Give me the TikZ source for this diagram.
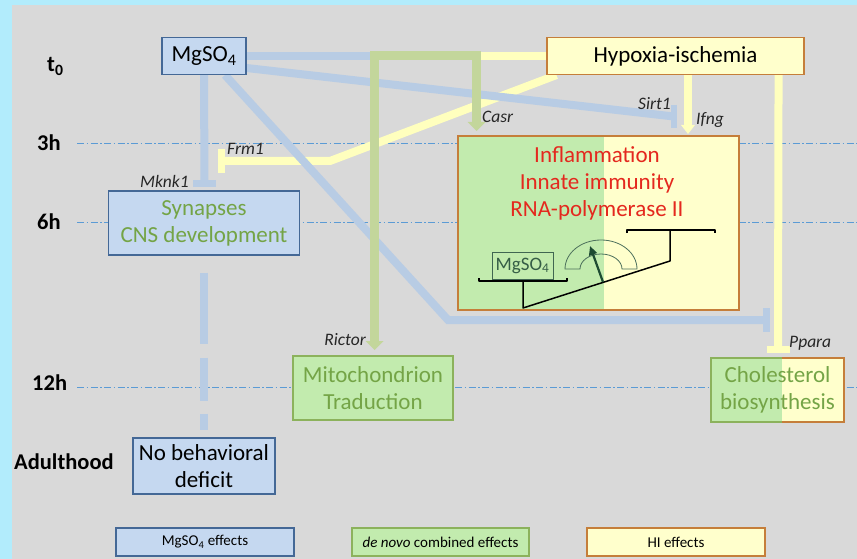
\documentclass[tikz,border=0pt]{standalone}
\usepackage{fontspec}
\setmainfont{Carlito}
\usetikzlibrary{arrows.meta}
\definecolor{bgcyan}{RGB}{178,236,252}
\definecolor{panel}{RGB}{217,217,217}
\definecolor{bluefill}{RGB}{197,216,240}
\definecolor{blueedge}{RGB}{68,104,150}
\definecolor{bluec}{RGB}{184,204,228}
\definecolor{greenc}{RGB}{195,214,155}
\definecolor{greenfill}{RGB}{194,235,174}
\definecolor{greenedge}{RGB}{140,178,92}
\definecolor{greentext}{RGB}{116,164,70}
\definecolor{yellowfill}{RGB}{255,255,204}
\definecolor{yellowc}{RGB}{255,255,190}
\definecolor{brownedge}{RGB}{197,126,58}
\definecolor{redtext}{RGB}{228,40,30}
\definecolor{gridline}{RGB}{91,155,213}
\definecolor{darkgreen}{RGB}{30,75,50}
\tikzset{
  box/.style={rectangle, inner sep=0pt, align=center, font=\fontsize{23}{27}\selectfont},
  bluebox/.style={box, draw=blueedge, fill=bluefill, line width=1.1pt},
  yellowbox/.style={box, draw=brownedge, fill=yellowfill, line width=1.1pt},
  greenbox/.style={box, draw=greenedge, fill=greenfill, line width=1.1pt},
  gene/.style={inner sep=0pt, font=\fontsize{17.5}{20}\selectfont\itshape, text=black!85},
  timelab/.style={inner sep=0pt, font=\fontsize{22.5}{26}\selectfont\bfseries},
  legend/.style={rectangle, inner sep=0pt, minimum height=28pt, minimum width=178pt, font=\fontsize{15}{18}\selectfont, line width=1.1pt},
  timeline/.style={gridline, line width=0.9pt, dash pattern=on 7pt off 2.5pt on 1.5pt off 2.5pt},
  bluecon/.style={bluec, line width=8pt},
  yellowcon/.style={yellowc, line width=8pt},
  greencon/.style={greenc, line width=9pt},
  scaleline/.style={black, line width=1.5pt, line join=round},
}
\begin{document}
\begin{tikzpicture}[x=1pt,y=-1pt]
\useasboundingbox (0,0) rectangle (857,559);
% background
\fill[bgcyan] (0,0) rectangle (857,559);
\fill[panel] (12,5) rectangle (857,559);

% time labels
\node[timelab, anchor=base west] (t0) at (47,72) {t\textsubscript{0}};
\node[timelab, anchor=base west] (h3) at (37,150) {3h};
\node[timelab, anchor=base west] (h6) at (37,229) {6h};
\node[timelab, anchor=base west] (h12) at (32,390) {12h};
\node[timelab, anchor=base west] (adult) at (14,469) {Adulthood};

% time grid lines
\draw[timeline] (77,143) -- (857,143);
\draw[timeline] (77,222) -- (857,222);
\draw[timeline] (77,387) -- (857,387);

% connector coordinates
\coordinate (jA) at (374.5,56);
\coordinate (jB) at (476.5,56);
\coordinate (ricB) at (374.5,341);
\coordinate (casB) at (476.5,122);
\coordinate (mkB) at (204.5,183.5);
\coordinate (sirB) at (674,116.5);
\coordinate (ppB) at (766.5,320);
\coordinate (bendE) at (448,320);
\coordinate (bendG) at (330,161);
\coordinate (frB) at (221,161);
\coordinate (ifB) at (688,125);
\coordinate (paB) at (778,349.5);

% boxes positions (nodes drawn later, names needed now)
\path (204,56) node[bluebox, minimum width=84pt, minimum height=37pt] (mg) {MgSO\textsubscript{4}};
\path (675.5,56) node[yellowbox, minimum width=257pt, minimum height=37pt] (hi) {Hypoxia-ischemia};
\path (204,223) node[bluebox, text=greentext, minimum width=191pt, minimum height=64pt] (syn) {Synapses\\CNS development};
\path (373,388) node[greenbox, text=greentext, minimum width=160pt, minimum height=64pt] (mito) {Mitochondrion\\Traduction};
\path (204,466) node[bluebox, minimum width=142pt, minimum height=56pt] (nob) {No behavioral\\deficit};

% yellow connectors (HI)
\draw[yellowcon] (hi.west) -- (jB);
\draw[yellowcon, line join=miter] ([xshift=10pt]hi.south west) -- (bendG) -- (frB);
\draw[yellowc, line width=7pt] (frB) ++(0,-12) -- ++(0,24);
\draw[yellowcon] ([xshift=12.5pt]hi.south) -- (ifB);
\fill[yellowc] (ifB) ++(-7,0) -- ++(14,0) -- ++(-7,9) -- cycle;
\draw[yellowcon] ([xshift=-26pt]hi.south east) -- (paB);
\draw[yellowc, line width=7pt] (paB) ++(-11.5,0) -- ++(23,0);

% blue connectors (MgSO4)
\draw[bluecon] (mg.east) -- (jA);
\draw[bluecon] (mg.south) -- (mkB);
\draw[bluec, line width=7pt] (mkB) ++(-11.5,0) -- ++(23,0);
\draw[bluecon] ([yshift=-12pt]mg.east) -- (sirB);
\draw[bluec, line width=6pt] (sirB) ++(0,-11.5) -- ++(0,23);
\draw[bluecon, line join=miter] ([xshift=21pt]mg.south) -- (bendE) -- (ppB);
\draw[bluec, line width=7pt] (ppB) ++(0,-12) -- ++(0,24);
\draw[bluecon, shorten <=17pt, shorten >=7pt, dash pattern=on 71pt off 14pt on 43pt off 13pt on 18pt off 60pt] (syn.south) -- (nob.north);

% green connectors (combined)
\draw[greencon, line join=miter] (ricB) -- (jA) -- (jB) -- (casB);
\fill[greenc] (ricB) ++(-9,0) -- ++(18,0) -- ++(-9,9) -- cycle;
\fill[greenc] (casB) ++(-9,0) -- ++(18,0) -- ++(-9,9) -- cycle;

% gene labels
\node[gene, anchor=base east] (mknk) at (189,187) {Mknk1};
\node[gene, anchor=base west] (frm) at (227,154) {Frm1};
\node[gene, anchor=base west] (casr) at (482,122.5) {Casr};
\node[gene, anchor=base east] (sirt) at (671,110) {Sirt1};
\node[gene, anchor=base west] (ifng) at (696,125) {Ifng};
\node[gene, anchor=base east] (rictor) at (366,345) {Rictor};
\node[gene, anchor=base west] (ppara) at (789,347) {Ppara};

% redraw boxes on top of connectors
\node[bluebox, minimum width=84pt, minimum height=37pt] at (mg) {MgSO\textsubscript{4}};
\node[yellowbox, minimum width=257pt, minimum height=37pt] at (hi) {Hypoxia-ischemia};
\node[bluebox, text=greentext, minimum width=191pt, minimum height=64pt] at (syn) {Synapses\\CNS development};
\node[greenbox, text=greentext, minimum width=160pt, minimum height=64pt] at (mito) {Mitochondrion\\Traduction};
\node[bluebox, minimum width=142pt, minimum height=56pt] at (nob) {No behavioral\\deficit};

% inflammation box (two tone)
\fill[greenfill] (458,136) rectangle (604,310);
\fill[yellowfill] (604,136) rectangle (739,310);
\node[rectangle, draw=brownedge, line width=1.1pt, minimum width=281pt, minimum height=174pt, inner sep=0pt] (infl) at (598.5,223) {};
\node[box, text=redtext] (infltxt) at (597,183.5) {Inflammation\\Innate immunity\\RNA-polymerase II};

% scale inside inflammation box
\node[rectangle, draw=darkgreen!85, line width=1pt, minimum width=61pt, minimum height=27pt, inner sep=0pt, font=\fontsize{19}{22}\selectfont, text=darkgreen!90] (mgs) at (522.5,265.5) {MgSO\textsubscript{4}};
\draw[scaleline] (479,278) -- (479,281) -- (567,281) -- (567,278);
\draw[scaleline] (523,281) -- (523,308) -- (670,261) -- (670,230);
\draw[scaleline] (627,233) -- (627,230) -- (715,230) -- (715,233);
\draw[darkgreen!80, line width=0.8pt] (565,269) .. controls (565,253) and (581.1,240) .. (601,240)
   .. controls (620.9,240) and (637,253) .. (637,269) -- (622,269)
   .. controls (622,260.7) and (612.6,254) .. (601,254)
   .. controls (589.4,254) and (580,260.7) .. (580,269) -- cycle;
\draw[darkgreen, line width=2.2pt, -{Triangle[length=9pt,width=8pt]}] (603,282) -- (590,246);

% cholesterol box (two tone)
\fill[greenfill] (711,358) rectangle (782,422);
\fill[yellowfill] (782,358) rectangle (844,422);
\draw[greenedge, line width=1.1pt] (782,358) -- (711,358) -- (711,422) -- (782,422);
\draw[brownedge, line width=1.1pt] (782,358) -- (844,358) -- (844,422) -- (782,422);
\node[box, text=greentext, minimum width=133pt, minimum height=64pt] (chol) at (777.5,390) {Cholesterol\\biosynthesis};

% legend
\node[legend, draw=blueedge, fill=bluefill] (leg1) at (205,542) {MgSO\textsubscript{4} effects};
\node[legend, draw=greenedge, fill=greenfill, minimum width=177pt] (leg2) at (440.5,542) {\textit{de novo} combined effects};
\node[legend, draw=brownedge, fill=yellowfill] (leg3) at (676,542) {HI effects};
\end{tikzpicture}
\end{document}
